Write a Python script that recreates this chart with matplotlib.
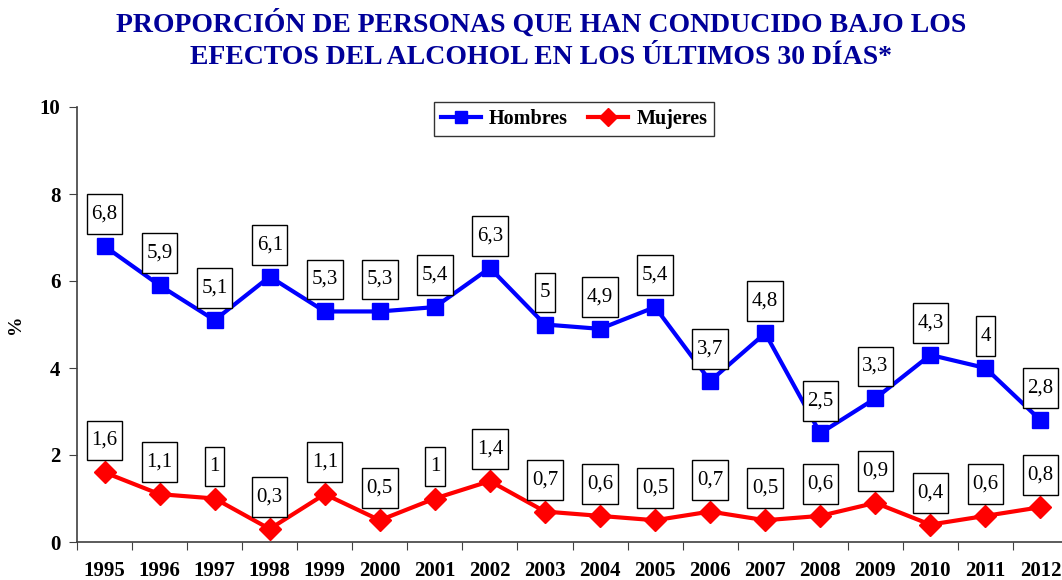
import matplotlib
matplotlib.use('Agg')
import matplotlib.pyplot as plt
from matplotlib.path import Path

years = ['1995', '1996', '1997', '1998', '1999', '2000', '2001', '2002', '2003',
         '2004', '2005', '2006', '2007', '2008', '2009', '2010', '2011', '2012']
hombres = [6.8, 5.9, 5.1, 6.1, 5.3, 5.3, 5.4, 6.3, 5.0, 4.9, 5.4, 3.7, 4.8, 2.5, 3.3, 4.3, 4.0, 2.8]
mujeres = [1.6, 1.1, 1.0, 0.3, 1.1, 0.5, 1.0, 1.4, 0.7, 0.6, 0.5, 0.7, 0.5, 0.6, 0.9, 0.4, 0.6, 0.8]

plt.rcParams['font.family'] = ['Liberation Serif', 'DejaVu Serif']

W, H = 1062, 580
fig = plt.figure(figsize=(W / 100, H / 100), dpi=100)
ax = fig.add_axes([77 / W, (H - 542) / H, (1068 - 77) / W, 435 / H])

x = list(range(len(years)))
ax.plot(x, hombres, color='#0000ff', lw=3, marker='s', ms=11, label='Hombres')
ax.plot(x, mujeres, color='#ff0000', lw=3, marker='D', ms=11, label='Mujeres')


def fmt(v):
    s = ('%.1f' % v).rstrip('0').rstrip('.')
    return s.replace('.', ',')


def tall_box(x0, y0, width, height, mutation_size):
    # rectangular box, more padding top/bottom than left/right
    px = 0.22 * mutation_size
    py = 0.5 * mutation_size
    x0, y0 = x0 - px, y0 - py
    x1, y1 = x0 + width + 2 * px, y0 + height + 2 * py
    return Path([(x0, y0), (x1, y0), (x1, y1), (x0, y1), (x0, y0)], closed=True)


for series in (hombres, mujeres):
    for xi, v in zip(x, series):
        ax.annotate(fmt(v), (xi, v), xytext=(0, 23), textcoords='offset points',
                    ha='center', va='center', fontsize=15,
                    bbox=dict(boxstyle=tall_box, fc='white', ec='black', lw=1))

ax.set_xlim(-0.5, len(years) - 0.5)
ax.set_ylim(0, 10)
ax.set_yticks([0, 2, 4, 6, 8, 10])
ax.set_xticks([i - 0.5 for i in range(len(years) + 1)], minor=False)
ax.set_xticklabels([])
ax.set_xticks(x, minor=True)
ax.set_xticklabels(years, minor=True, fontsize=15, fontweight='bold')
ax.tick_params(axis='x', which='minor', length=0, pad=14)
ax.tick_params(axis='x', which='major', length=6, direction='out', color='#404040')
ax.tick_params(axis='y', length=6, color='#404040', labelsize=15, pad=6)
for lab in ax.get_yticklabels():
    lab.set_fontweight('bold')
for s in ('top', 'right'):
    ax.spines[s].set_visible(False)
for s in ('left', 'bottom'):
    ax.spines[s].set_color('#404040')
    ax.spines[s].set_linewidth(1.2)
ax.set_ylabel('%', fontsize=14, fontweight='bold')
ax.yaxis.set_label_coords((24 - 77) / (1068 - 77), 0.5)

leg = ax.legend(loc='upper center', bbox_to_anchor=(574 / W, 1 - 102 / H), bbox_transform=fig.transFigure,
                ncol=2, frameon=True, fancybox=False, edgecolor='black', borderaxespad=0,
                prop={'weight': 'bold', 'size': 14.5}, handlelength=2.0, columnspacing=1.0,
                borderpad=0.35, handletextpad=0.4, markerscale=0.85)
leg.get_frame().set_linewidth(1)

fig.text(541 / W, 1 - 40 / H, 'PROPORCIÓN DE PERSONAS QUE HAN CONDUCIDO BAJO LOS\nEFECTOS DEL ALCOHOL EN LOS ÚLTIMOS 30 DÍAS*',
         ha='center', va='center', fontsize=20, fontweight='bold', color='#000099', linespacing=1.4)

fig.savefig('out.png', dpi=100)
